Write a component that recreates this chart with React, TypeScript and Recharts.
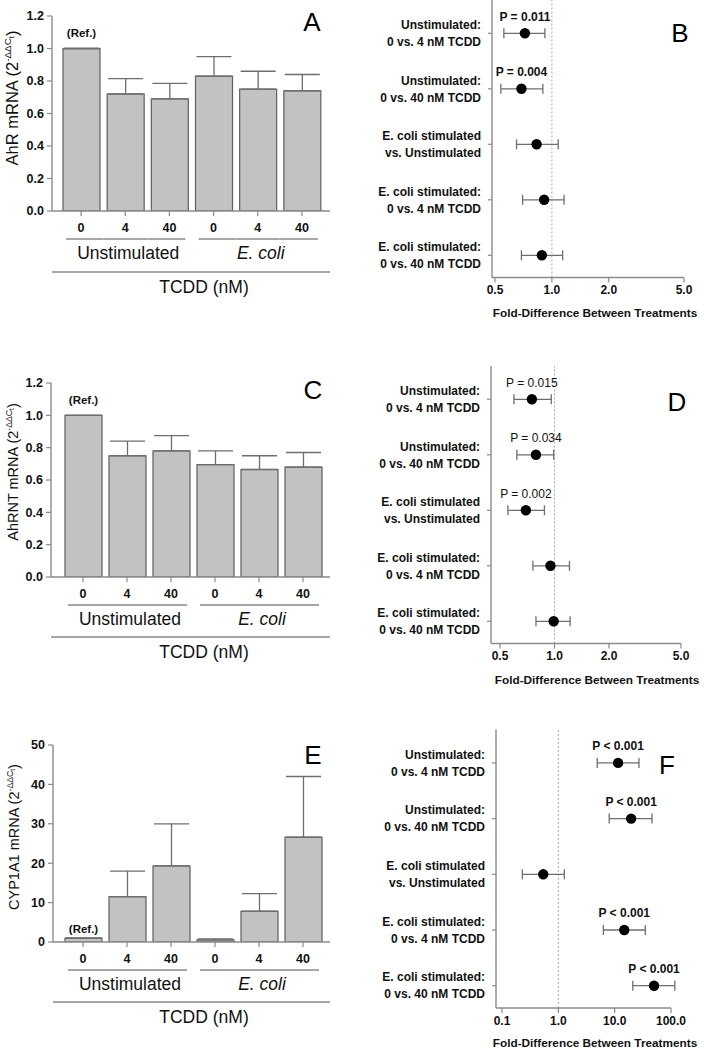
import React from "react";
import {
  BarChart,
  Bar,
  XAxis,
  YAxis,
  ErrorBar,
  ScatterChart,
  Scatter,
  ReferenceLine,
  ReferenceDot,
} from "recharts";

// ---------- data ----------
const tcddTicks = ["0", "4", "40", "0", "4", "40"];
const groupNames = ["Unstimulated", "E. coli"];

const ahrMean = [1.0, 0.72, 0.69, 0.83, 0.75, 0.74];
const ahrUpper = [null, 0.815, 0.785, 0.95, 0.86, 0.84];

const ahrntMean = [1.0, 0.75, 0.78, 0.695, 0.665, 0.68];
const ahrntUpper = [null, 0.84, 0.875, 0.78, 0.75, 0.77];

const cypMean = [1.0, 11.5, 19.3, 0.55, 7.8, 26.6];
const cypUpper = [null, 18, 30, 0.78, 12.3, 42];

const ratioTicks01 = [0, 0.2, 0.4, 0.6, 0.8, 1.0, 1.2];
const cypTicks = [0, 10, 20, 30, 40, 50];

const rowLine1 = [
  "Unstimulated:",
  "Unstimulated:",
  "E. coli stimulated",
  "E. coli stimulated:",
  "E. coli stimulated:",
];
const rowLine2 = [
  "0 vs. 4 nM TCDD",
  "0 vs. 40 nM TCDD",
  "vs. Unstimulated",
  "0 vs. 4 nM TCDD",
  "0 vs. 40 nM TCDD",
];

const ahrEst = [0.72, 0.69, 0.83, 0.91, 0.885];
const ahrLo = [0.557, 0.537, 0.65, 0.7, 0.69];
const ahrHi = [0.918, 0.896, 1.08, 1.16, 1.14];
const ahrP = ["P = 0.011", "P = 0.004", "", "", ""];

const ahrntEst = [0.75, 0.79, 0.695, 0.95, 0.99];
const ahrntLo = [0.597, 0.62, 0.553, 0.76, 0.79];
const ahrntHi = [0.96, 0.99, 0.88, 1.21, 1.22];
const ahrntP = ["P = 0.015", "P = 0.034", "P = 0.002", "", ""];

const cypEst = [11.5, 19.6, 0.54, 14.8, 50];
const cypLo = [4.9, 8, 0.23, 6.3, 21];
const cypHi = [27, 46, 1.28, 35, 117];
const cypP = ["P < 0.001", "P < 0.001", "", "P < 0.001", "P < 0.001"];

const foldTicksSmall = [0.5, 1, 2, 5];
const foldTicksWide = [0.1, 1, 10, 100];

// ---------- style ----------
const FONT = "'Liberation Sans', Arial, Helvetica, sans-serif";
const AXIS = "#8a8a8a";
const INK = "#111";
const BAR_FILL = "#c2c2c2";
const BAR_STROKE = "#5e5e5e";
const ROW_DOMAIN: [number, number] = [0.4, 5.4];

function buildBarData(mean: number[], upper: (number | null)[]) {
  return mean.map((m, i) => ({
    key: "c" + i,
    value: m,
    err: upper[i] == null ? [0, 0] : [0, (upper[i] as number) - m],
  }));
}

function buildForestData(est: number[], lo: number[], hi: number[], p: string[]) {
  return est.map((e, i) => ({
    row: i + 1,
    est: e,
    err: [e - lo[i], hi[i] - e],
    p: p[i],
  }));
}

function renderBarXTick(props: any) {
  const { x, y, index } = props;
  const axisY = y - 7;
  const pos = index % 3;
  const x1 = pos === 0 ? x - 15 : x - 22;
  const x2 = pos === 2 ? x + 16 : x + 22;
  return (
    <g fontFamily={FONT}>
      <text x={x} y={axisY + 20.5} textAnchor="middle" fontWeight="bold" fontSize={12.5} fill={INK}>
        {tcddTicks[index]}
      </text>
      <line x1={x1} x2={x2} y1={axisY + 28} y2={axisY + 28} stroke={AXIS} strokeWidth={1.4} />
      {pos === 1 ? (
        <text
          x={x + 3}
          y={axisY + 48}
          textAnchor="middle"
          fontSize={17.5}
          fontStyle={index > 2 ? "italic" : "normal"}
          fill={INK}
        >
          {groupNames[Math.floor(index / 3)]}
        </text>
      ) : null}
    </g>
  );
}

const makeBarShape = (refOffset: number) =>
  function barShape(props: any) {
    const { x, y, width, height, index } = props;
    return (
      <g>
        <rect
          x={x}
          y={y}
          width={width}
          height={Math.max(height, 0)}
          fill={BAR_FILL}
          stroke={BAR_STROKE}
          strokeWidth={1.2}
        />
        {index === 0 ? (
          <text
            x={x + width / 2}
            y={y - refOffset}
            textAnchor="middle"
            fontSize={11.5}
            fontWeight="bold"
            fill={INK}
            fontFamily={FONT}
          >
            (Ref.)
          </text>
        ) : null}
      </g>
    );
  };

type BarPanelProps = {
  top: number;
  height: number;
  marginTop: number;
  plotHeight: number;
  yWidth: number;
  padLeft: number;
  padRight: number;
  mean: number[];
  upper: (number | null)[];
  domain: [number, number];
  ticks: number[];
  fmt: (v: number) => string;
  refOffset: number;
};

function BarPanel(p: BarPanelProps) {
  const data = buildBarData(p.mean, p.upper);
  const xHeight = p.height - p.marginTop - p.plotHeight;
  return (
    <div style={{ position: "absolute", left: 0, top: p.top, width: 352, height: p.height }}>
      <BarChart
        width={352}
        height={p.height}
        data={data}
        margin={{ top: p.marginTop, right: 22, left: 0, bottom: 0 }}
        barSize={37}
      >
        <XAxis
          dataKey="key"
          type="category"
          height={xHeight}
          padding={{ left: p.padLeft, right: p.padRight }}
          tickSize={5}
          tickMargin={2}
          axisLine={{ stroke: AXIS, strokeWidth: 1.4 }}
          tickLine={{ stroke: AXIS, strokeWidth: 1.2 }}
          tick={renderBarXTick}
          interval={0}
        />
        <YAxis
          type="number"
          width={p.yWidth}
          domain={p.domain}
          ticks={p.ticks}
          allowDataOverflow
          tickFormatter={p.fmt}
          tickSize={5}
          tickMargin={3}
          axisLine={{ stroke: AXIS, strokeWidth: 1.4 }}
          tickLine={{ stroke: AXIS, strokeWidth: 1.2 }}
          tick={{ fill: INK, fontWeight: "bold", fontSize: 12.5, fontFamily: FONT }}
        />
        <Bar
          dataKey="value"
          fill={BAR_FILL}
          stroke={BAR_STROKE}
          strokeWidth={1.2}
          shape={makeBarShape(p.refOffset)}
          isAnimationActive={false}
        >
          <ErrorBar dataKey="err" direction="y" width={17.5} stroke="#6e6e6e" strokeWidth={1.3} />
        </Bar>
      </BarChart>
    </div>
  );
}

function renderForestYTick(props: any) {
  const { x, y, payload } = props;
  const i = Math.round(payload.value) - 1;
  if (i < 0 || i > 4) return <g />;
  return (
    <g fontFamily={FONT} fontWeight="bold" fontSize={12} fill={INK}>
      <text x={x} y={y - 4.3} textAnchor="end">
        {rowLine1[i]}
      </text>
      <text x={x} y={y + 12.7} textAnchor="end">
        {rowLine2[i]}
      </text>
    </g>
  );
}

function renderDot(props: any) {
  const { cx, cy } = props;
  return <circle cx={cx} cy={cy} r={5.2} fill="#000" />;
}

type ForestProps = {
  top: number;
  height: number;
  marginTop: number;
  plotHeight: number;
  yWidth: number;
  padLeft: number;
  marginRight: number;
  est: number[];
  lo: number[];
  hi: number[];
  p: string[];
  domain: [number, number];
  ticks: number[];
  pBold: boolean;
};

function ForestPanel(f: ForestProps) {
  const data = buildForestData(f.est, f.lo, f.hi, f.p);
  const xHeight = f.height - f.marginTop - f.plotHeight;
  return (
    <div style={{ position: "absolute", left: 352, top: f.top, width: 352, height: f.height }}>
      <ScatterChart
        width={352}
        height={f.height}
        margin={{ top: f.marginTop, right: f.marginRight, left: 0, bottom: 0 }}
      >
        <XAxis
          type="number"
          dataKey="est"
          scale="log"
          domain={f.domain}
          ticks={f.ticks}
          allowDataOverflow
          padding={{ left: f.padLeft, right: 0 }}
          height={xHeight}
          tickFormatter={(v: number) => v.toFixed(1)}
          tickSize={5}
          tickMargin={3}
          axisLine={{ stroke: AXIS, strokeWidth: 1.4 }}
          tickLine={{ stroke: AXIS, strokeWidth: 1.2 }}
          tick={{ fill: INK, fontWeight: "bold", fontSize: 12, fontFamily: FONT }}
        />
        <YAxis
          type="number"
          dataKey="row"
          domain={ROW_DOMAIN}
          reversed
          ticks={[1, 2, 3, 4, 5]}
          width={f.yWidth}
          tickSize={4}
          tickMargin={7}
          axisLine={{ stroke: AXIS, strokeWidth: 1.4 }}
          tickLine={{ stroke: AXIS, strokeWidth: 1.2 }}
          tick={renderForestYTick}
          interval={0}
        />
        <ReferenceLine x={1} stroke="#a8a8a8" strokeDasharray="2 2" strokeWidth={1} />
        <Scatter data={data} shape={renderDot} isAnimationActive={false}>
          <ErrorBar dataKey="err" direction="x" width={5} stroke="#6e6e6e" strokeWidth={1.3} />
        </Scatter>
        {data
          .filter((d) => d.p)
          .map((d) => (
            <ReferenceDot
              key={"p" + d.row}
              x={d.est}
              y={d.row}
              r={0}
              fill="none"
              stroke="none"
              ifOverflow="visible"
              label={{
                value: d.p,
                position: "top",
                offset: 12.7,
                fill: INK,
                fontSize: 12,
                fontWeight: f.pBold ? "bold" : "normal",
                fontFamily: FONT,
              }}
            />
          ))}
      </ScatterChart>
    </div>
  );
}

// ---------- annotations (panel letters, axis titles, TCDD brackets) ----------
const letters = [
  { t: "A", x: 312, y: 22 },
  { t: "B", x: 680, y: 33 },
  { t: "C", x: 313, y: 390 },
  { t: "D", x: 677, y: 402 },
  { t: "E", x: 313, y: 755 },
  { t: "F", x: 667, y: 765 },
];

const yTitles = [
  { name: "AhR mRNA", x: 12, y: 98, size: 16.5 },
  { name: "AhRNT mRNA", x: 13, y: 472, size: 14.5 },
  { name: "CYP1A1 mRNA", x: 14, y: 837, size: 14.5 },
];

const tcddBrackets = [
  { x1: 52, x2: 330, y: 272 },
  { x1: 51, x2: 330, y: 637 },
  { x1: 53, x2: 330, y: 1002 },
];

const foldTitles = [
  { x: 595, y: 313 },
  { x: 597, y: 680 },
  { x: 595, y: 1043 },
];

function YTitle({ name, x, y, size }: any) {
  return (
    <text
      transform={`translate(${x},${y}) rotate(-90)`}
      x={0}
      y={size * 0.36}
      textAnchor="middle"
      fontSize={size}
      fill={INK}
      fontFamily={FONT}
    >
      {name} (2
      <tspan fontSize={size * 0.6} dy={-size * 0.42}>
        -ΔΔC
      </tspan>
      <tspan fontSize={size * 0.45} dy={size * 0.15}>
        t
      </tspan>
      <tspan fontSize={size} dy={size * 0.27}>
        )
      </tspan>
    </text>
  );
}

export default function App() {
  const fmt1 = (v: number) => v.toFixed(1);
  const fmt0 = (v: number) => String(v);
  return (
    <div
      style={{
        position: "absolute",
        left: 0,
        top: 0,
        width: 704,
        height: 1050,
        background: "#fff",
        fontFamily: FONT,
        overflow: "hidden",
      }}
    >
      <BarPanel
        top={0}
        height={320}
        marginTop={16}
        plotHeight={195}
        yWidth={52}
        padLeft={7}
        padRight={6}
        mean={ahrMean}
        upper={ahrUpper}
        domain={[0, 1.2]}
        ticks={ratioTicks01}
        fmt={fmt1}
        refOffset={12}
      />
      <BarPanel
        top={340}
        height={330}
        marginTop={43}
        plotHeight={194}
        yWidth={51}
        padLeft={10}
        padRight={5}
        mean={ahrntMean}
        upper={ahrntUpper}
        domain={[0, 1.2]}
        ticks={ratioTicks01}
        fmt={fmt1}
        refOffset={11}
      />
      <BarPanel
        top={680}
        height={370}
        marginTop={65}
        plotHeight={197}
        yWidth={53}
        padLeft={8}
        padRight={5}
        mean={cypMean}
        upper={cypUpper}
        domain={[0, 50]}
        ticks={cypTicks}
        fmt={fmt0}
        refOffset={5}
      />
      <ForestPanel
        top={0}
        height={330}
        marginTop={0}
        plotHeight={277.5}
        yWidth={140}
        padLeft={3}
        marginRight={20}
        est={ahrEst}
        lo={ahrLo}
        hi={ahrHi}
        p={ahrP}
        domain={[0.5, 5]}
        ticks={foldTicksSmall}
        pBold={true}
      />
      <ForestPanel
        top={340}
        height={354}
        marginTop={26}
        plotHeight={277.5}
        yWidth={139}
        padLeft={9}
        marginRight={23}
        est={ahrntEst}
        lo={ahrntLo}
        hi={ahrntHi}
        p={ahrntP}
        domain={[0.5, 5]}
        ticks={foldTicksSmall}
        pBold={false}
      />
      <ForestPanel
        top={680}
        height={370}
        marginTop={49.5}
        plotHeight={278.5}
        yWidth={144}
        padLeft={6}
        marginRight={33}
        est={cypEst}
        lo={cypLo}
        hi={cypHi}
        p={cypP}
        domain={[0.1, 100]}
        ticks={foldTicksWide}
        pBold={true}
      />
      <svg
        width={704}
        height={1050}
        style={{ position: "absolute", left: 0, top: 0, pointerEvents: "none" }}
      >
        {letters.map((l) => (
          <text
            key={l.t}
            x={l.x}
            y={l.y + 9.3}
            textAnchor="middle"
            fontSize={26}
            fill="#000"
            fontFamily={FONT}
          >
            {l.t}
          </text>
        ))}
        {yTitles.map((t) => (
          <YTitle key={t.name} {...t} />
        ))}
        {tcddBrackets.map((b, i) => (
          <g key={"tc" + i} fontFamily={FONT}>
            <line x1={b.x1} x2={b.x2} y1={b.y} y2={b.y} stroke={AXIS} strokeWidth={1.4} />
            <text x={204} y={b.y + 21} textAnchor="middle" fontSize={17.5} fill={INK}>
              TCDD (nM)
            </text>
          </g>
        ))}
        {foldTitles.map((t, i) => (
          <text
            key={"ft" + i}
            x={t.x}
            y={t.y + 4.2}
            textAnchor="middle"
            fontSize={11.8}
            fontWeight="bold"
            fill={INK}
            fontFamily={FONT}
          >
            Fold-Difference Between Treatments
          </text>
        ))}
      </svg>
    </div>
  );
}
